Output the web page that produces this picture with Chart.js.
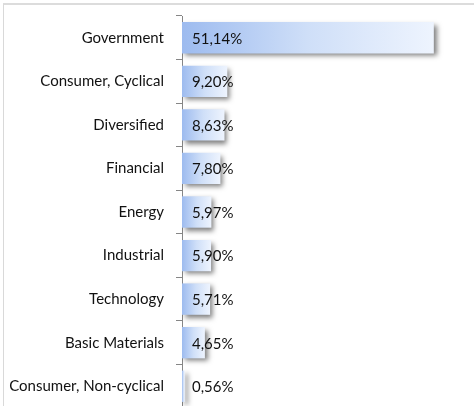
<!DOCTYPE html>
<html>
<head>
<meta charset="utf-8">
<script src="https://cdn.jsdelivr.net/npm/chart.js@4/dist/chart.umd.min.js"></script>
<style>
  html, body { margin: 0; padding: 0; background: #fff; overflow: hidden; }
  .frame {
    position: absolute; left: 3px; top: 3px; width: 480px; height: 420px;
    border-top: 2px solid #dcdcdc; border-left: 1px solid #d9d9d9;
  }
  .graphBox { position: absolute; left: 0; top: 0; width: 474px; height: 408px; }
</style>
</head>
<body>
<div class="frame"></div>
<div class="graphBox"><canvas id="barChart"></canvas></div>
<script>
const sectors = [
  "Government",
  "Consumer, Cyclical",
  "Diversified",
  "Financial",
  "Energy",
  "Industrial",
  "Technology",
  "Basic Materials",
  "Consumer, Non-cyclical"
];
const shareValues = [51.14, 9.20, 8.63, 7.80, 5.97, 5.90, 5.71, 4.65, 0.56];

function formatPct(v) {
  return v.toFixed(2).replace('.', ',') + '%';
}

// gray drop shadow under the bars, like the spreadsheet style
const barShadow = {
  id: 'barShadow',
  beforeDatasetsDraw(chart) {
    const ctx = chart.ctx;
    ctx.save();
    ctx.shadowColor = 'rgba(0,0,0,0.5)';
    ctx.shadowBlur = 5;
    ctx.shadowOffsetX = 3;
    ctx.shadowOffsetY = 3;
  },
  afterDatasetsDraw(chart) {
    chart.ctx.restore();
    // value labels, drawn after the shadow is gone
    const ctx = chart.ctx;
    const meta = chart.getDatasetMeta(0);
    const x0 = chart.scales.x.getPixelForValue(0);
    ctx.save();
    ctx.font = '15px Lato';
    ctx.fillStyle = '#111';
    ctx.textAlign = 'left';
    ctx.textBaseline = 'middle';
    meta.data.forEach((bar, i) => {
      ctx.fillText(formatPct(shareValues[i]), x0 + 10, bar.y + 1);
    });
    ctx.restore();
  }
};

var barCtx = document.getElementById('barChart').getContext('2d');
var barChart = new Chart(barCtx, {
  type: 'bar',
  data: {
    labels: sectors,
    datasets: [{
      data: shareValues,
      backgroundColor: function (c) {
        const chart = c.chart;
        if (c.type !== 'data' || !chart.chartArea) return '#b9cdf3';
        const x = chart.scales.x;
        const a = x.getPixelForValue(0);
        const b = x.getPixelForValue(c.raw);
        const g = chart.ctx.createLinearGradient(a, 0, b, 0);
        g.addColorStop(0, '#9dbbef');
        g.addColorStop(0.5, '#cfdff8');
        g.addColorStop(1, '#eef4fe');
        return g;
      },
      borderWidth: 0,
      categoryPercentage: 0.72,
      barPercentage: 1
    }]
  },
  options: {
    indexAxis: 'y',
    responsive: true,
    maintainAspectRatio: false,
    animation: false,
    layout: { padding: { top: 16, left: 3, right: 0, bottom: 0 } },
    plugins: { legend: { display: false }, tooltip: { enabled: false } },
    scales: {
      x: { display: false, min: 0, max: 59.3 },
      y: {
        afterFit: function (s) {
          s.width = 179;
          s.paddingTop = 0;
          s.paddingBottom = 0;
        },
        border: { color: '#868686', width: 1 },
        grid: { offset: true, drawOnChartArea: false, tickLength: 6, color: '#868686' },
        ticks: { color: '#111', font: { family: 'Lato', size: 15 }, padding: 12 }
      }
    }
  },
  plugins: [barShadow]
});
</script>
</body>
</html>
